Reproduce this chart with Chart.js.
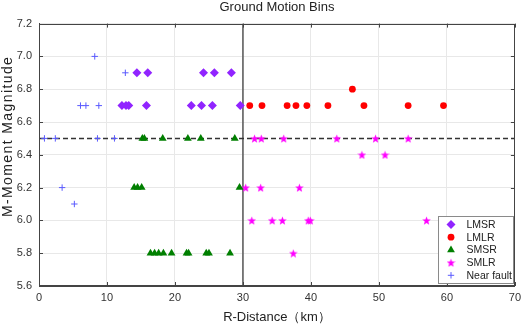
<!DOCTYPE html>
<html>
<head>
<meta charset="utf-8">
<script src="https://cdn.jsdelivr.net/npm/chart.js@4"></script>
<style>
  html, body { margin: 0; padding: 0; background: #fff; }
  #wrap { width: 526px; height: 325px; }
</style>
</head>
<body>
<div id="wrap"><canvas id="binsChart"></canvas></div>
<script>
// distances (km) and magnitudes
const lmsrR = [14.4, 16.0, 24.2, 25.8, 28.3, 12.2, 12.8, 13.2, 15.8, 22.4, 23.9, 25.5, 29.6];
const lmsrM = [6.9, 6.9, 6.9, 6.9, 6.9, 6.7, 6.7, 6.7, 6.7, 6.7, 6.7, 6.7, 6.7];

const lmlrR = [31.0, 32.8, 36.5, 37.8, 39.4, 42.5, 47.8, 54.3, 59.5, 46.1];
const lmlrM = [6.7, 6.7, 6.7, 6.7, 6.7, 6.7, 6.7, 6.7, 6.7, 6.8];

const smsrR = [15.2, 15.5, 18.2, 21.9, 23.8, 28.8, 14.0, 14.5, 15.1, 29.5,
               16.4, 17.0, 17.6, 18.3, 19.5, 21.7, 22.0, 24.6, 25.0, 28.1];
const smsrM = [6.5, 6.5, 6.5, 6.5, 6.5, 6.5, 6.2, 6.2, 6.2, 6.2,
               5.8, 5.8, 5.8, 5.8, 5.8, 5.8, 5.8, 5.8, 5.8, 5.8];

const smlrR = [31.7, 32.7, 36.0, 43.8, 49.5, 54.3, 47.5, 50.9, 30.4, 32.6, 38.3,
               31.3, 34.3, 35.8, 39.6, 39.9, 57.0, 37.4];
const smlrM = [6.5, 6.5, 6.5, 6.5, 6.5, 6.5, 6.4, 6.4, 6.2, 6.2, 6.2,
               6.0, 6.0, 6.0, 6.0, 6.0, 6.0, 5.8];

const nearFaultR = [8.2, 12.7, 6.1, 6.9, 8.8, 0.8, 2.4, 8.6, 11.1, 3.4, 5.2];
const nearFaultM = [7.0, 6.9, 6.7, 6.7, 6.7, 6.5, 6.5, 6.5, 6.5, 6.2, 6.1];

// bin boundaries
const magLimit = 6.5;
const distLimit = 30;
const distRange = [0, 70];
const magRange = [5.6, 7.2];

const yTitle = 'M-Moment Magnitude';
const FONT = "'Liberation Sans', Arial, sans-serif";

const toPoints = (xs, ys) => xs.map((x, i) => ({ x: x, y: ys[i] }));

// filled pentagram marker, like the matlab one
function makeStar(size, color) {
  const c = document.createElement('canvas');
  c.width = size; c.height = size;
  const g = c.getContext('2d');
  const cx = size / 2, cy = size / 2 + 0.5, ro = size / 2, ri = ro * 0.42;
  g.beginPath();
  for (let k = 0; k < 10; k++) {
    const r = k % 2 === 0 ? ro : ri;
    const a = -Math.PI / 2 + k * Math.PI / 5;
    const px = cx + r * Math.cos(a), py = cy + r * Math.sin(a);
    if (k === 0) g.moveTo(px, py); else g.lineTo(px, py);
  }
  g.closePath();
  g.fillStyle = color;
  g.fill();
  return c;
}
const starImg = makeStar(9, '#ff00ff');

const markerSets = [
  { label: 'LMSR', data: toPoints(lmsrR, lmsrM), pointStyle: 'rectRot', pointRadius: 4.5,
    backgroundColor: '#9124ff', borderColor: '#9124ff', borderWidth: 0 },
  { label: 'LMLR', data: toPoints(lmlrR, lmlrM), pointStyle: 'circle', pointRadius: 3.4,
    backgroundColor: '#ff0000', borderColor: '#ff0000', borderWidth: 0 },
  { label: 'SMSR', data: toPoints(smsrR, smsrM), pointStyle: 'triangle', pointRadius: 4.5,
    backgroundColor: '#007f00', borderColor: '#007f00', borderWidth: 0 },
  { label: 'SMLR', data: toPoints(smlrR, smlrM), pointStyle: starImg, pointRadius: 4.5,
    backgroundColor: '#ff00ff', borderColor: '#ff00ff', borderWidth: 0 },
  { label: 'Near fault', data: toPoints(nearFaultR, nearFaultM), pointStyle: 'cross', pointRadius: 3.2,
    backgroundColor: '#5a5aff', borderColor: '#5a5aff', borderWidth: 1 }
];

// matlab-ish box, inward ticks, y title and the legend in the lower right corner
const boxPlugin = {
  id: 'boxPlugin',
  afterDraw(chart) {
    const ctx = chart.ctx, a = chart.chartArea;
    const xs = chart.scales.x, ys = chart.scales.y;
    ctx.save();
    ctx.strokeStyle = '#444';
    ctx.lineWidth = 1;
    ctx.beginPath();
    xs.ticks.forEach(t => {
      const px = Math.round(xs.getPixelForValue(t.value)) + 0.5;
      ctx.moveTo(px, a.bottom); ctx.lineTo(px, a.bottom - 4);
      ctx.moveTo(px, a.top); ctx.lineTo(px, a.top + 4);
    });
    ys.ticks.forEach(t => {
      const py = Math.round(ys.getPixelForValue(t.value)) + 0.5;
      ctx.moveTo(a.left, py); ctx.lineTo(a.left + 4, py);
      ctx.moveTo(a.right, py); ctx.lineTo(a.right - 4, py);
    });
    ctx.stroke();
    ctx.strokeRect(Math.round(a.left) + 0.5, Math.round(a.top) + 0.5,
                   Math.round(a.right - a.left) - 1, Math.round(a.bottom - a.top) - 1);

    // y title, sits a bit above the middle of the axis in the original
    ctx.save();
    ctx.translate(8.5, a.top + (a.bottom - a.top) * 0.43);
    ctx.rotate(-Math.PI / 2);
    ctx.font = '14px ' + FONT;
    ctx.letterSpacing = '1.4px';
    ctx.fillStyle = '#222';
    ctx.textAlign = 'center';
    ctx.textBaseline = 'middle';
    ctx.fillText(yTitle, 0, 0);
    ctx.restore();

    // legend
    const bw = 75, bh = 67, rowH = 12.7;
    const bx = Math.round(a.right - 1.5 - bw) + 0.5, by = Math.round(a.bottom - 3 - bh) + 0.5;
    ctx.fillStyle = '#fff';
    ctx.fillRect(bx, by, bw, bh);
    ctx.strokeStyle = '#8a8a8a';
    ctx.strokeRect(bx, by, bw, bh);
    ctx.font = '10.5px ' + FONT;
    ctx.textBaseline = 'middle';
    markerSets.forEach((ds, i) => {
      const cy = by + 8 + i * rowH;
      const mx = bx + 12.5;
      ctx.fillStyle = ds.backgroundColor;
      ctx.strokeStyle = ds.borderColor;
      ctx.lineWidth = ds.borderWidth;
      Chart.helpers.drawPoint(ctx, {
        pointStyle: ds.pointStyle, radius: ds.pointRadius, rotation: 0, borderWidth: ds.borderWidth
      }, mx, cy);
      ctx.fillStyle = '#222';
      ctx.fillText(ds.label, bx + 28, cy + 0.5);
    });
    ctx.restore();
  }
};

const config = {
  type: 'scatter',
  data: {
    datasets: markerSets.concat([
      {
        label: 'mag limit',
        type: 'line',
        data: [{ x: distRange[0], y: magLimit }, { x: distRange[1], y: magLimit }],
        borderColor: '#333',
        borderWidth: 1.5,
        borderDash: [5, 3],
        pointRadius: 0,
        order: 10
      },
      {
        label: 'dist limit',
        type: 'line',
        data: [{ x: distLimit, y: magRange[0] }, { x: distLimit, y: magRange[1] }],
        borderColor: '#555',
        borderWidth: 1.5,
        pointRadius: 0,
        order: 10
      }
    ])
  },
  options: {
    responsive: true,
    maintainAspectRatio: false,
    animation: false,
    layout: { padding: { left: 0, right: 10, top: 0, bottom: 0 } },
    plugins: {
      legend: { display: false },
      tooltip: { enabled: false },
      title: {
        display: true,
        text: 'Ground Motion Bins',
        fullSize: false,
        color: '#222',
        font: { family: FONT, size: 13, weight: 'normal' },
        padding: { top: 0, bottom: 8 }
      }
    },
    scales: {
      x: {
        type: 'linear',
        min: distRange[0],
        max: distRange[1],
        afterFit: s => { s.height = 39; },
        ticks: { stepSize: 10, padding: 5, color: '#333', font: { family: FONT, size: 11 } },
        grid: { color: '#e8e8e8', drawTicks: false },
        border: { color: '#444', width: 1 },
        title: {
          display: true,
          text: 'R-Distance（km）',
          color: '#222',
          font: { family: FONT, size: 13 },
          padding: { top: 0, bottom: 0 }
        }
      },
      y: {
        type: 'linear',
        min: magRange[0],
        max: magRange[1],
        afterFit: s => { s.width = 39; },
        ticks: {
          stepSize: 0.2, padding: 7, color: '#333', font: { family: FONT, size: 11 },
          callback: v => v.toFixed(1)
        },
        grid: { color: '#e8e8e8', drawTicks: false },
        border: { color: '#444', width: 1 },
        title: { display: false }
      }
    }
  },
  plugins: [boxPlugin]
};

const binsChart = new Chart(document.getElementById('binsChart'), config);
</script>
</body>
</html>
